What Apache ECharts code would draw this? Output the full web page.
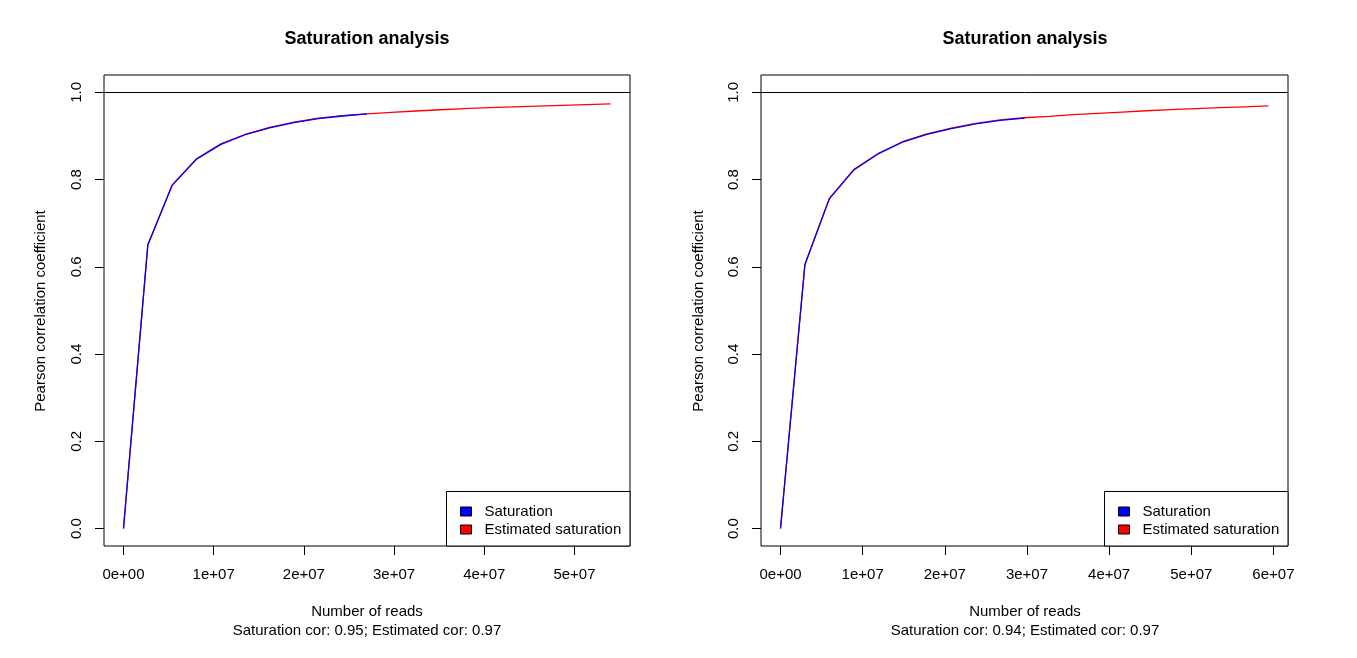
<!DOCTYPE html>
<html>
<head>
<meta charset="utf-8">
<script src="https://cdn.jsdelivr.net/npm/echarts@6/dist/echarts.min.js"></script>
<style>
html,body{margin:0;padding:0;background:#fff;}
#chart{width:1357px;height:658px;}
</style>
</head>
<body>
<div id="chart"></div>
<script>
// ---- data ----
const chartTitle = 'Saturation analysis';
const xAxisTitle = 'Number of reads';
const yAxisTitle = 'Pearson correlation coefficient';
const seriesNames = ['Saturation', 'Estimated saturation'];
const subtitles = ['Saturation cor: 0.95; Estimated cor: 0.97', 'Saturation cor: 0.94; Estimated cor: 0.97'];

const leftSatReads = [0, 2.7e6, 5.4e6, 8.1e6, 10.8e6, 13.5e6, 16.2e6, 18.9e6, 21.6e6, 24.3e6, 27.0e6];
const leftSatCor = [0, 0.650, 0.787, 0.847, 0.881, 0.903, 0.919, 0.931, 0.940, 0.946, 0.951];
const leftEstReads = [0, 2.7e6, 5.4e6, 8.1e6, 10.8e6, 13.5e6, 16.2e6, 18.9e6, 21.6e6, 24.3e6, 27.0e6,
  29.7e6, 32.4e6, 35.1e6, 37.8e6, 40.5e6, 43.2e6, 45.9e6, 48.6e6, 51.3e6, 54.0e6];
const leftEstCor = [0, 0.651, 0.788, 0.848, 0.882, 0.904, 0.920, 0.932, 0.941, 0.947, 0.951,
  0.9545, 0.9575, 0.9603, 0.9628, 0.965, 0.967, 0.9688, 0.9705, 0.9721, 0.9736];

const rightSatReads = [0, 2.97e6, 5.94e6, 8.91e6, 11.88e6, 14.85e6, 17.82e6, 20.79e6, 23.76e6, 26.73e6, 29.7e6];
const rightSatCor = [0, 0.605, 0.756, 0.822, 0.859, 0.886, 0.904, 0.917, 0.928, 0.936, 0.941];
const rightEstReads = [0, 2.97e6, 5.94e6, 8.91e6, 11.88e6, 14.85e6, 17.82e6, 20.79e6, 23.76e6, 26.73e6, 29.7e6,
  32.67e6, 35.64e6, 38.61e6, 41.58e6, 44.55e6, 47.52e6, 50.49e6, 53.46e6, 56.43e6, 59.4e6];
const rightEstCor = [0, 0.606, 0.757, 0.823, 0.860, 0.887, 0.905, 0.918, 0.929, 0.937, 0.942,
  0.945, 0.949, 0.952, 0.955, 0.958, 0.9605, 0.963, 0.965, 0.967, 0.969];

const leftXTicks = [0, 1e7, 2e7, 3e7, 4e7, 5e7];
const rightXTicks = [0, 1e7, 2e7, 3e7, 4e7, 5e7, 6e7];
const xTickLabels = ['0e+00', '1e+07', '2e+07', '3e+07', '4e+07', '5e+07', '6e+07'];
const yTicks = [0, 0.2, 0.4, 0.6, 0.8, 1.0];
const yTickLabels = ['0.0', '0.2', '0.4', '0.6', '0.8', '1.0'];
const refLine = 1.0;

// ---- chart ----
const FONT = 'Liberation Sans, Arial, Helvetica, sans-serif';
const chart = echarts.init(document.getElementById('chart'));

function pairs(xs, ys) { return xs.map((x, i) => [x, ys[i]]); }
function xFmt(v) { const i = Math.round(v / 1e7); return xTickLabels[i] !== undefined ? xTickLabels[i] : ''; }
function yFmt(v) { const i = Math.round(v / 0.2); return yTickLabels[i] !== undefined ? yTickLabels[i] : ''; }

const grids = [
  { left: 104, top: 75, width: 526, height: 471 },
  { left: 761, top: 75, width: 527, height: 471 }
];
const xMaxData = [54.0e6, 59.4e6];
const xTickSets = [leftXTicks, rightXTicks];

function makeX(i) {
  const m = xMaxData[i];
  return {
    type: 'value', gridIndex: i, min: -0.04 * m, max: 1.04 * m,
    axisLine: { show: false, onZero: false },
    splitLine: { show: false },
    axisTick: { show: true, inside: false, length: 9, customValues: xTickSets[i], lineStyle: { color: '#000', width: 1 } },
    axisLabel: { show: true, customValues: xTickSets[i], formatter: xFmt, margin: 21, color: '#000', fontSize: 15, fontFamily: FONT }
  };
}
function makeY(i) {
  return {
    type: 'value', gridIndex: i, min: -0.04, max: 1.04,
    axisLine: { show: false, onZero: false },
    splitLine: { show: false },
    axisTick: { show: true, inside: false, length: 9, customValues: yTicks, lineStyle: { color: '#000', width: 1 } },
    axisLabel: { show: true, customValues: yTicks, formatter: yFmt, rotate: 90, margin: 20, color: '#000', fontSize: 15, fontFamily: FONT }
  };
}

function lineSeries(name, i, data, color, withRef) {
  const s = {
    name: name, type: 'line', xAxisIndex: i, yAxisIndex: i, data: data,
    showSymbol: false, symbol: 'none', color: color,
    lineStyle: { color: color, width: 1.3 }, animation: false, silent: true
  };
  if (withRef) {
    s.markLine = {
      silent: true, symbol: ['none', 'none'], label: { show: false },
      lineStyle: { color: '#000', width: 1, type: 'solid' },
      data: [{ yAxis: refLine }]
    };
  }
  return s;
}

const texts = [];
const centers = [367, 1025];
const yNameX = [41, 699];
for (let i = 0; i < 2; i++) {
  texts.push({ type: 'text', x: centers[i], y: 39, style: { text: chartTitle, font: 'bold 18px ' + FONT, fill: '#000', textAlign: 'center', textVerticalAlign: 'middle' } });
  texts.push({ type: 'text', x: centers[i], y: 612, style: { text: xAxisTitle, font: '15px ' + FONT, fill: '#000', textAlign: 'center', textVerticalAlign: 'middle' } });
  texts.push({ type: 'text', x: centers[i], y: 631, style: { text: subtitles[i], font: '15px ' + FONT, fill: '#000', textAlign: 'center', textVerticalAlign: 'middle' } });
  texts.push({ type: 'text', x: yNameX[i], y: 311, rotation: Math.PI / 2, style: { text: yAxisTitle, font: '15px ' + FONT, fill: '#000', textAlign: 'center', textVerticalAlign: 'middle' } });
}
const legendBoxes = [
  { type: 'rect', shape: { x: 446.5, y: 491.5, width: 183.5, height: 54.5 }, style: { fill: '#fff', stroke: '#000', lineWidth: 1 }, z: 5 },
  { type: 'rect', shape: { x: 1104.5, y: 491.5, width: 183.5, height: 54.5 }, style: { fill: '#fff', stroke: '#000', lineWidth: 1 }, z: 5 }
];

function makeLegend(left) {
  return {
    orient: 'vertical', left: left, top: 504, padding: 0, itemGap: 3,
    itemWidth: 11, itemHeight: 9, icon: 'rect', selectedMode: false, z: 10,
    itemStyle: { borderColor: '#000', borderWidth: 1 },
    textStyle: { color: '#000', fontSize: 15, fontFamily: FONT, padding: [0, 0, 0, 8] },
    data: seriesNames
  };
}

chart.setOption({
  animation: false,
  backgroundColor: '#fff',
  grid: grids.map(g => Object.assign({ show: true, borderColor: '#000', borderWidth: 1, backgroundColor: 'transparent' }, g)),
  xAxis: [makeX(0), makeX(1)],
  yAxis: [makeY(0), makeY(1)],
  legend: [makeLegend(460), makeLegend(1118)],
  graphic: legendBoxes.concat(texts),
  series: [
    lineSeries(seriesNames[1], 0, pairs(leftEstReads, leftEstCor), '#ff0000', true),
    lineSeries(seriesNames[0], 0, pairs(leftSatReads, leftSatCor), '#0000ff', false),
    lineSeries(seriesNames[1], 1, pairs(rightEstReads, rightEstCor), '#ff0000', true),
    lineSeries(seriesNames[0], 1, pairs(rightSatReads, rightSatCor), '#0000ff', false)
  ]
});
</script>
</body>
</html>
